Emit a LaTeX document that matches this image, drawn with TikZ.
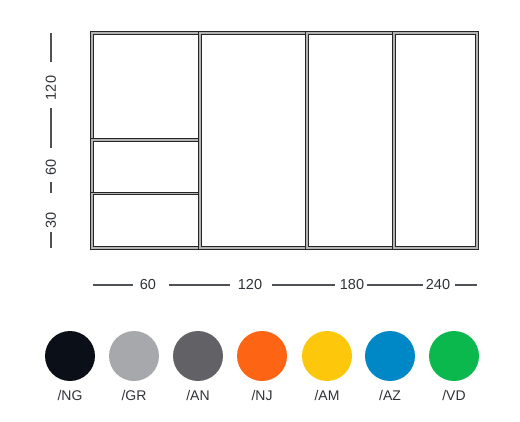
\documentclass[tikz,border=0pt]{standalone}
\usepackage{fontspec}
\setmainfont{Liberation Sans}
\definecolor{txt}{HTML}{2F3338}
\definecolor{frame}{HTML}{262626}
\definecolor{cNG}{HTML}{0A0F18}
\definecolor{cGR}{HTML}{A7A8AB}
\definecolor{cAN}{HTML}{626166}
\definecolor{cNJ}{HTML}{FD6414}
\definecolor{cAM}{HTML}{FDC70C}
\definecolor{cAZ}{HTML}{0087C6}
\definecolor{cVD}{HTML}{0BB84E}
\begin{document}
\begin{tikzpicture}[x=1pt,y=-1pt,
  panel/.style={draw=frame,line width=1pt,double=gray!60,double distance=1.1pt},
  dimline/.style={draw=txt!85,line width=1.2pt},
  dimlabel/.style={text=txt,font=\fontsize{14.5}{16}\selectfont,inner sep=0pt},
  swatch/.style={circle,minimum size=50pt,inner sep=0pt},
  swlabel/.style={text=txt,font=\fontsize{14}{16}\selectfont,inner sep=0pt}]
\useasboundingbox (0,0) rectangle (520,421);
% panels
\draw[panel] (92,33) rectangle (200,140);
\draw[panel] (92,140) rectangle (200,193.5);
\draw[panel] (92,193.5) rectangle (200,248);
\draw[panel] (200,33) rectangle (307,248);
\draw[panel] (307,33) rectangle (394,248);
\draw[panel] (394,33) rectangle (477,248);
% vertical dimensions
\node[dimlabel,rotate=90] (v120) at (51,88) {120};
\node[dimlabel,rotate=90] (v60) at (51,167) {60};
\node[dimlabel,rotate=90] (v30) at (51,220) {30};
\draw[dimline] (51,33) -- (51,62);
\draw[dimline] (51,108) -- (51,148);
\draw[dimline] (51,182) -- (51,193);
\draw[dimline] (51,232) -- (51,248);
% horizontal dimensions
\node[dimlabel] (h60) at (148,285) {60};
\node[dimlabel] (h120) at (250,285) {120};
\node[dimlabel] (h180) at (352,285) {180};
\node[dimlabel] (h240) at (438,285) {240};
\draw[dimline] (93,285) -- (133,285);
\draw[dimline] (169,285) -- (230,285);
\draw[dimline] (272,285) -- (335,285);
\draw[dimline] (367,285) -- (423,285);
\draw[dimline] (455,285) -- (477,285);
% swatches
\foreach \nm/\x in {NG/70,GR/134,AN/198,NJ/262,AM/327,AZ/390,VD/454}{
  \node[swatch,fill=c\nm] (s\nm) at (\x,356) {};
  \node[swlabel] (l\nm) at (\x,395) {/\nm};
}
\end{tikzpicture}
\end{document}
